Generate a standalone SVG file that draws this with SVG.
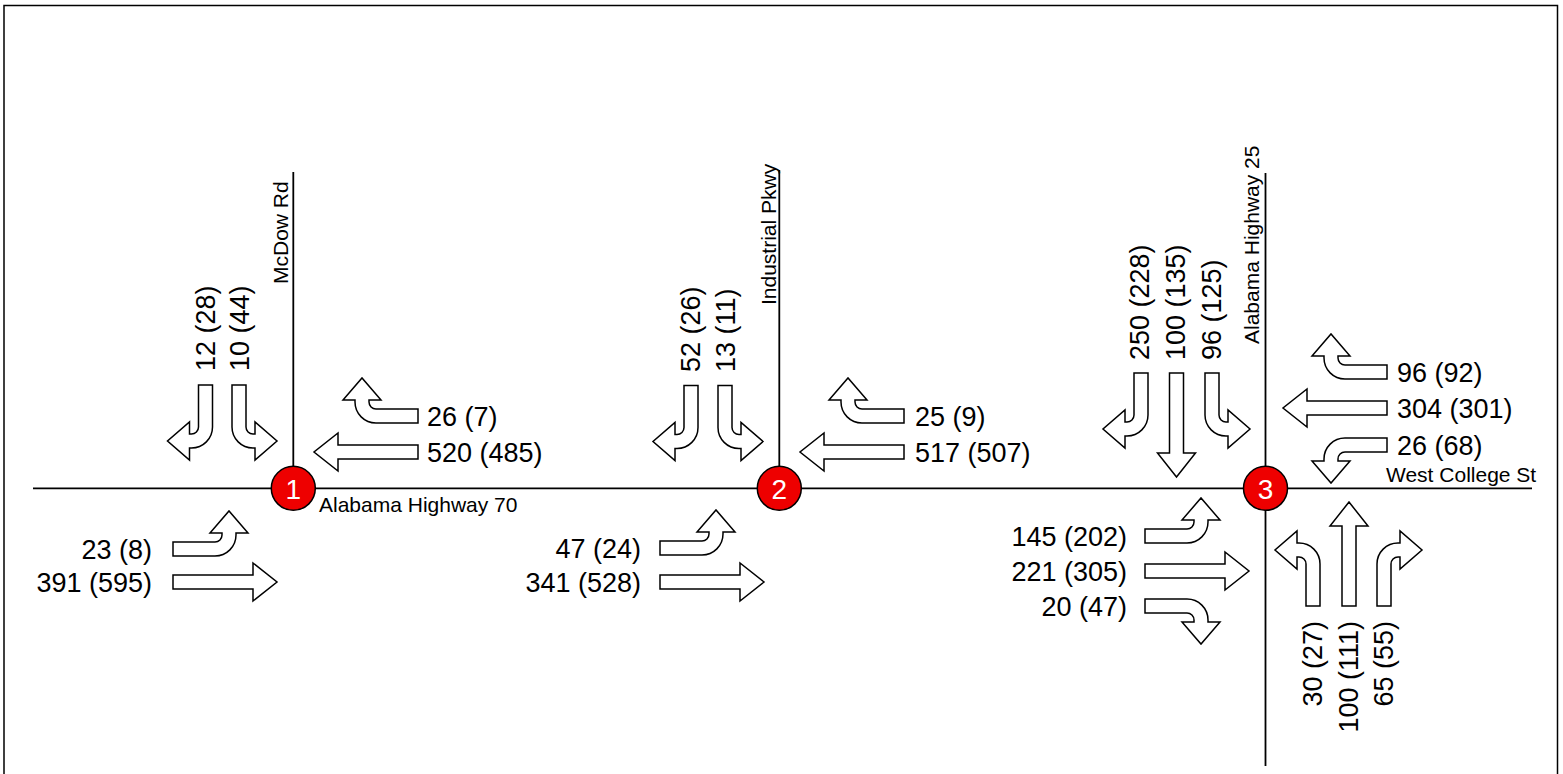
<svg xmlns="http://www.w3.org/2000/svg" xmlns:xlink="http://www.w3.org/1999/xlink" width="1563" height="774" viewBox="0 0 1563 774">
<style>
.road{stroke:#000;stroke-width:1.8;fill:none}
.arr{fill:#fff;stroke:#000;stroke-width:1.5;stroke-linejoin:miter}
.num{font-family:"Liberation Sans",Arial,sans-serif;font-size:27px;fill:#000}
.lbl{font-family:"Liberation Sans",Arial,sans-serif;font-size:21px;fill:#000}
.badge{fill:#ee0000;stroke:#000;stroke-width:1.5}
.bnum{font-family:"Liberation Sans",Arial,sans-serif;font-size:28px;fill:#fff;text-anchor:middle}
.e{text-anchor:end}
</style>
<defs>
<path id="thru" class="arr" d="M0,-7 H80 V-19 L104,0 L80,19 V7 H0 Z"/>
<path id="turn" class="arr" d="M0,-7 H42 A7,7 0 0 0 49,-14 V-16 H37 L56,-38 L75,-16 H63 V-14 A21,21 0 0 1 42,7 H0 Z"/>
</defs>
<rect x="4" y="5.5" width="1553.5" height="800" fill="#fff" stroke="#000" stroke-width="1.5"/>
<g id="connectors">
<line class="road" x1="33" y1="488.3" x2="1532" y2="488.3"/>
<line class="road" x1="293.3" y1="172" x2="293.3" y2="488"/>
<line class="road" x1="779.3" y1="170" x2="779.3" y2="488"/>
<line class="road" x1="1265.5" y1="173" x2="1265.5" y2="766"/>
</g>
<g id="road-labels">
<text class="lbl" x="319" y="511.5">Alabama Highway 70</text>
<text class="lbl" x="1386" y="482">West College St</text>
<text class="lbl" font-size="20" transform="translate(288,284) rotate(-90)">McDow Rd</text>
<text class="lbl" transform="translate(775.5,305) rotate(-90)">Industrial Pkwy</text>
<text class="lbl" font-size="20" transform="translate(1259,344) rotate(-90)">Alabama Highway 25</text>
</g>
<g id="int1">
<use xlink:href="#turn" transform="matrix(0 1 1 0 205.5 385)"/>
<use xlink:href="#turn" transform="matrix(0 1 -1 0 239 385)"/>
<use xlink:href="#turn" transform="matrix(-1 0 0 1 418 416)"/>
<use xlink:href="#thru" transform="matrix(-1 0 0 1 418 452)"/>
<use xlink:href="#turn" transform="translate(173 549)"/>
<use xlink:href="#thru" transform="translate(173 582)"/>
<text class="num" transform="translate(214.5,371) rotate(-90)">12 (28)</text>
<text class="num" transform="translate(249,371) rotate(-90)">10 (44)</text>
<text class="num" x="427" y="425.5">26 (7)</text>
<text class="num" x="427" y="461.5">520 (485)</text>
<text class="num e" x="152" y="558.5">23 (8)</text>
<text class="num e" x="152" y="591.5">391 (595)</text>
<circle class="badge" cx="293.3" cy="488.3" r="22"/>
<text class="bnum" x="293.3" y="498.5">1</text>
</g>
<g id="int2">
<use xlink:href="#turn" transform="matrix(0 1 1 0 691 385.5)"/>
<use xlink:href="#turn" transform="matrix(0 1 -1 0 725 385.5)"/>
<use xlink:href="#turn" transform="matrix(-1 0 0 1 904 416)"/>
<use xlink:href="#thru" transform="matrix(-1 0 0 1 904 452)"/>
<use xlink:href="#turn" transform="translate(660 548)"/>
<use xlink:href="#thru" transform="translate(660 582)"/>
<text class="num" transform="translate(700,372) rotate(-90)">52 (26)</text>
<text class="num" transform="translate(734.5,372) rotate(-90)">13 (11)</text>
<text class="num" x="915" y="425.5">25 (9)</text>
<text class="num" x="915" y="461.5">517 (507)</text>
<text class="num e" x="641" y="557.5">47 (24)</text>
<text class="num e" x="641" y="591.5">341 (528)</text>
<circle class="badge" cx="779.3" cy="488.3" r="22"/>
<text class="bnum" x="779.3" y="498.5">2</text>
</g>
<g id="int3">
<use xlink:href="#turn" transform="matrix(0 1 1 0 1141 373)"/>
<use xlink:href="#thru" transform="matrix(0 1 -1 0 1176.5 373)"/>
<use xlink:href="#turn" transform="matrix(0 1 -1 0 1212 373)"/>
<use xlink:href="#turn" transform="matrix(-1 0 0 1 1387 372)"/>
<use xlink:href="#thru" transform="matrix(-1 0 0 1 1387 408)"/>
<use xlink:href="#turn" transform="matrix(-1 0 0 -1 1387 445)"/>
<use xlink:href="#turn" transform="translate(1145 536)"/>
<use xlink:href="#thru" transform="translate(1145 571)"/>
<use xlink:href="#turn" transform="matrix(1 0 0 -1 1145 606)"/>
<use xlink:href="#turn" transform="matrix(0 -1 1 0 1313 606)"/>
<use xlink:href="#thru" transform="matrix(0 -1 1 0 1349 606)"/>
<use xlink:href="#turn" transform="matrix(0 -1 -1 0 1384 606)"/>
<text class="num" transform="translate(1149,360) rotate(-90)">250 (228)</text>
<text class="num" transform="translate(1185,360) rotate(-90)">100 (135)</text>
<text class="num" transform="translate(1221,360) rotate(-90)">96 (125)</text>
<text class="num" x="1397" y="381.5">96 (92)</text>
<text class="num" x="1397" y="417.5">304 (301)</text>
<text class="num" x="1397" y="454.5">26 (68)</text>
<text class="num e" x="1127" y="545.5">145 (202)</text>
<text class="num e" x="1127" y="580.5">221 (305)</text>
<text class="num e" x="1127" y="615.5">20 (47)</text>
<text class="num e" transform="translate(1322,621) rotate(-90)">30 (27)</text>
<text class="num e" transform="translate(1358,621) rotate(-90)">100 (111)</text>
<text class="num e" transform="translate(1393,621) rotate(-90)">65 (55)</text>
<circle class="badge" cx="1265.5" cy="488.3" r="22"/>
<text class="bnum" x="1265.5" y="498.5">3</text>
</g>
</svg>
